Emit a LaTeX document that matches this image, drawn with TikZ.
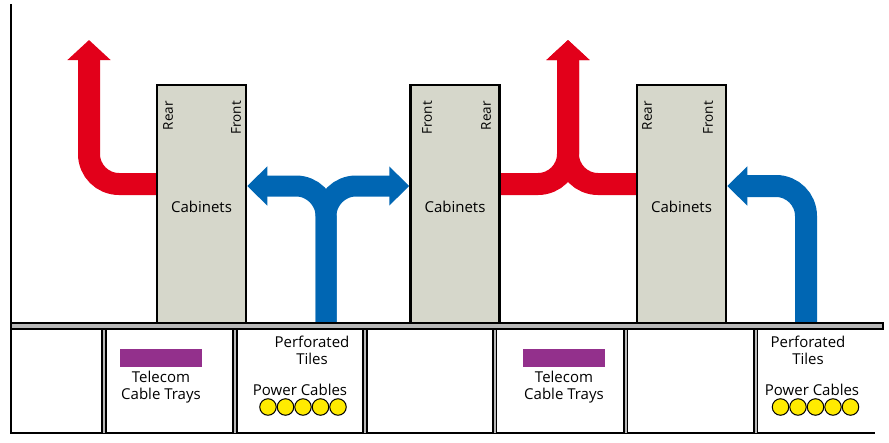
\documentclass[tikz,border=0pt]{standalone}
\usepackage{fontspec}
\setmainfont{Open Sans}
\usetikzlibrary{arrows.meta}
\definecolor{cabgray}{HTML}{D6D7CB}
\definecolor{flowred}{HTML}{E2001A}
\definecolor{flowblue}{HTML}{0066B3}
\definecolor{traypurple}{HTML}{93308C}
\definecolor{cableyellow}{HTML}{FFEB00}
\definecolor{floorgray}{HTML}{B8B8B8}
\tikzset{
  cab/.style={draw=black, fill=cabgray, line width=2.5pt, minimum width=89pt, minimum height=238pt, inner sep=0pt},
  cabtext/.style={inner sep=0pt, font=\fontsize{15}{17}\selectfont},
  sidelabel/.style={rotate=90, anchor=east, inner sep=0pt, font=\fontsize{13.5}{15}\selectfont},
  redflow/.style={draw=flowred, line width=22pt, rounded corners=30pt},
  blueflow/.style={draw=flowblue, line width=21pt, rounded corners=30pt},
  redtip/.style={-{Triangle[width=42pt,length=20pt]}},
  bluetip/.style={-{Triangle[width=38pt,length=20pt]}},
  divider/.style={draw=black, line width=1.6pt, double=floorgray, double distance=2pt},
  tray/.style={fill=traypurple, minimum width=82pt, minimum height=18pt, inner sep=0pt},
  cable/.style={circle, draw=black, line width=1pt, fill=cableyellow, minimum size=16.5pt, inner sep=0pt},
  lbl/.style={align=center, inner sep=0pt, font=\fontsize{15}{17}\selectfont},
}
\begin{document}
\begin{tikzpicture}[x=1pt,y=-1pt]
\useasboundingbox (0,0) rectangle (889,442);
% cabinets (nodes, drawn later on top)
\path (201.5,204) node[cab, draw=none, fill=none] (c1) {}
      (455,204) node[cab, draw=none, fill=none] (c2) {}
      (681.5,204) node[cab, draw=none, fill=none] (c3) {};
\coordinate (s1) at (326,324);
\coordinate (s3) at (806,324);
% red flow 1
\draw[redflow, redtip] (c1.west |- 0,184) -- (89,184) -- (89,40);
% blue T
\draw[blueflow, bluetip] (s1) -- (326,186) -- (c1.east |- 0,186);
\draw[blueflow, bluetip] (s1) -- (326,186) -- (c2.west |- 0,186);
% red merge
\draw[redflow, redtip] (c2.east |- 0,184) -- (568,184) -- (568,40);
\draw[redflow, redtip] (c3.west |- 0,184) -- (568,184) -- (568,40);
% blue right
\draw[blueflow, line width=22pt, bluetip] (s3) -- (806,186) -- (c3.east |- 0,186);
% cabinets visible
\node[cab] at (c1) {};
\node[cab] at (c2) {};
\node[cab] at (c3) {};
\node[cabtext] (l1) at ([yshift=-3pt]c1.center) {Cabinets};
\node[cabtext] (l2) at ([yshift=-3pt]c2.center) {Cabinets};
\node[cabtext] (l3) at ([yshift=-3pt]c3.center) {Cabinets};
\node[sidelabel] (r1) at (168,101) {Rear};
\node[sidelabel] (f1) at (236,101) {Front};
\node[sidelabel] (f2) at (427,101) {Front};
\node[sidelabel] (r2) at (486,101) {Rear};
\node[sidelabel] (r3) at (647,101) {Rear};
\node[sidelabel] (f3) at (708,101) {Front};
% axes, floor
\draw[line width=2.5pt] (11,4) -- (11,433) -- (875,433);
\draw[divider] (104,329) -- (104,433);
\draw[divider] (235,329) -- (235,433);
\draw[divider] (365,329) -- (365,433);
\draw[divider] (494.5,329) -- (494.5,433);
\draw[divider] (625.5,329) -- (625.5,433);
\draw[divider] (755.5,329) -- (755.5,433);
\draw[line width=1.6pt, fill=floorgray] (11,323) rectangle (883,329);
% trays
\node[tray] (t1) at (161,358) {};
\node[lbl, anchor=north] (t1l) at ([yshift=-4pt]t1.south) {Telecom\\Cable Trays};
\node[tray] (t2) at (564,358) {};
\node[lbl, anchor=north] (t2l) at ([yshift=-4pt]t2.south) {Telecom\\Cable Trays};
% perforated tiles
\node[lbl] (p1) at (312,350) {Perforated\\Tiles};
\node[lbl] (pc1) at (300,390) {Power Cables};
\node[lbl] (p2) at (808,350) {Perforated\\Tiles};
\node[lbl] (pc2) at (812,390) {Power Cables};
\foreach \i in {0,...,4} {
  \node[cable] (a\i) at (268+17.5*\i,407) {};
  \node[cable] (b\i) at (780.5+17.5*\i,407) {};
}
\end{tikzpicture}
\end{document}
